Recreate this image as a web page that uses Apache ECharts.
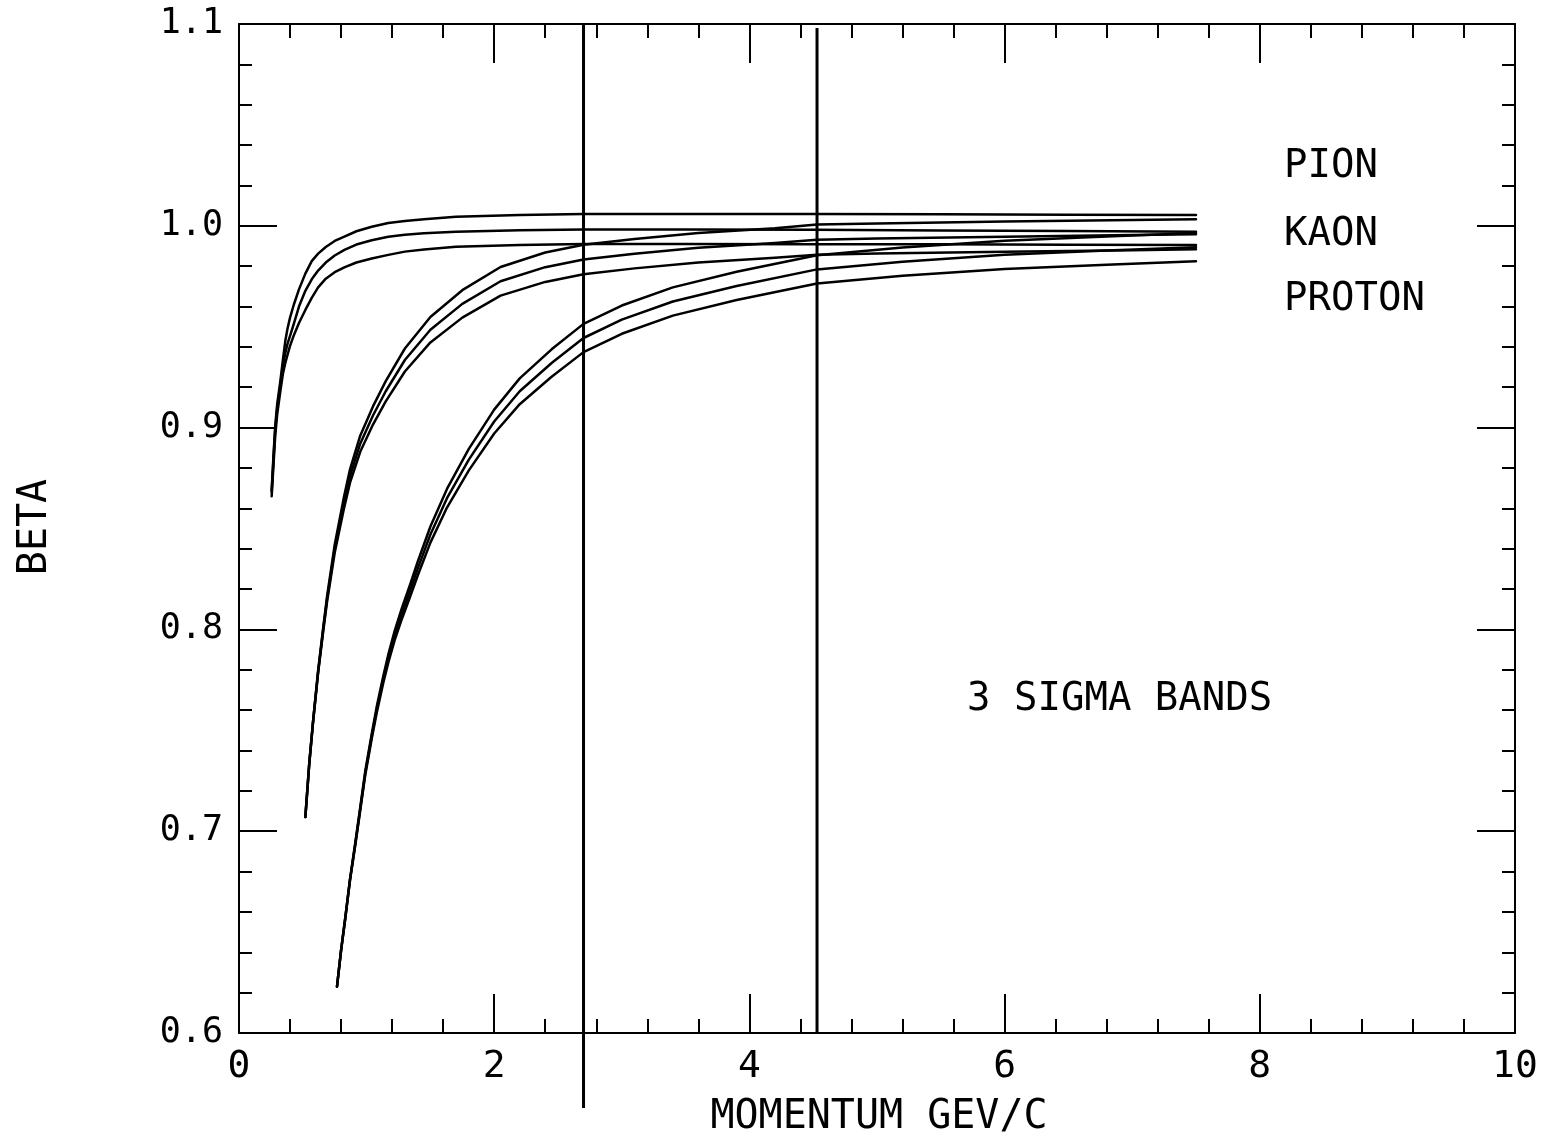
<!DOCTYPE html>
<html>
<head>
<meta charset="utf-8">
<title>Beta vs momentum</title>
<script src="https://cdn.jsdelivr.net/npm/echarts@6/dist/echarts.min.js"></script>
<style>
  html, body { margin: 0; padding: 0; background: #ffffff; }
  #chart { width: 1547px; height: 1140px; }
</style>
</head>
<body>
<div id="chart"></div>
<script>
// Momentum samples (GeV/c) and beta of the upper edge, centre and lower edge of each 3-sigma band
const pionP = [0.256, 0.27, 0.284, 0.30, 0.324, 0.345, 0.363, 0.38, 0.40, 0.43, 0.47, 0.52, 0.57, 0.62, 0.68, 0.75, 0.83, 0.92, 1.04, 1.17, 1.3, 1.45, 1.7, 2.2, 2.7, 3.5, 4.5, 5.5, 6.5, 7.5];
const pionUpper = [0.869, 0.886, 0.901, 0.912, 0.923, 0.934, 0.943, 0.949, 0.9545, 0.961, 0.9685, 0.9763, 0.9825, 0.9862, 0.9895, 0.9925, 0.9948, 0.9973, 0.9995, 1.0014, 1.0024, 1.0033, 1.0045, 1.0054, 1.0058, 1.0058, 1.0058, 1.0057, 1.0055, 1.0054];
const pionCentre = [0.868, 0.884, 0.899, 0.910, 0.921, 0.931, 0.937, 0.9415, 0.9455, 0.9515, 0.960, 0.9678, 0.9735, 0.9778, 0.9818, 0.9853, 0.9882, 0.9907, 0.9928, 0.9946, 0.9956, 0.9963, 0.9971, 0.9978, 0.9982, 0.9982, 0.998, 0.9977, 0.9974, 0.9971];
const pionLower = [0.866, 0.881, 0.896, 0.907, 0.918, 0.927, 0.932, 0.936, 0.9405, 0.9458, 0.9518, 0.9583, 0.9643, 0.9695, 0.9738, 0.977, 0.9795, 0.9818, 0.9838, 0.9856, 0.9872, 0.9882, 0.9896, 0.9905, 0.991, 0.991, 0.9909, 0.9908, 0.9906, 0.9905];

const kaonP = [0.52, 0.55, 0.58, 0.62, 0.66, 0.69, 0.75, 0.82, 0.87, 0.95, 1.05, 1.15, 1.3, 1.5, 1.75, 2.05, 2.4, 2.7, 3.1, 3.6, 4.2, 4.53, 5.0, 6.0, 7.0, 7.5];
const kaonUpper = [0.707, 0.733, 0.7543, 0.7796, 0.801, 0.8163, 0.842, 0.8648, 0.8793, 0.896, 0.9105, 0.923, 0.9392, 0.9548, 0.9681, 0.9796, 0.9868, 0.9906, 0.9935, 0.9964, 0.9988, 1.0006, 1.0011, 1.0021, 1.0029, 1.0032];
const kaonCentre = [0.707, 0.733, 0.754, 0.779, 0.800, 0.815, 0.840, 0.862, 0.876, 0.892, 0.906, 0.918, 0.9335, 0.9485, 0.9613, 0.9725, 0.9795, 0.9833, 0.9862, 0.9891, 0.9915, 0.9931, 0.9937, 0.9946, 0.9954, 0.9958];
const kaonLower = [0.707, 0.733, 0.7537, 0.7784, 0.799, 0.8137, 0.838, 0.8592, 0.8727, 0.888, 0.9015, 0.913, 0.9278, 0.9422, 0.9545, 0.9654, 0.9722, 0.976, 0.9789, 0.9818, 0.9842, 0.9856, 0.9863, 0.9871, 0.9879, 0.9884];

const protonP = [0.768, 0.80, 0.833, 0.87, 0.912, 0.95, 0.99, 1.04, 1.082, 1.13, 1.172, 1.22, 1.277, 1.34, 1.4, 1.5, 1.63, 1.8, 2.0, 2.2, 2.45, 2.7, 3.0, 3.4, 3.9, 4.53, 5.2, 6.0, 6.8, 7.5];
const protonUpper = [0.623, 0.6411, 0.6573, 0.6764, 0.6946, 0.7118, 0.730, 0.7482, 0.7625, 0.7767, 0.788, 0.7993, 0.8107, 0.822, 0.8334, 0.851, 0.8696, 0.8893, 0.9089, 0.9244, 0.9388, 0.9514, 0.9605, 0.9695, 0.9772, 0.9854, 0.9892, 0.9926, 0.9947, 0.9964];
const protonCentre = [0.623, 0.641, 0.657, 0.676, 0.694, 0.711, 0.729, 0.747, 0.761, 0.775, 0.786, 0.797, 0.808, 0.819, 0.830, 0.847, 0.865, 0.884, 0.903, 0.918, 0.932, 0.9444, 0.9535, 0.9625, 0.9702, 0.9784, 0.9822, 0.9856, 0.9877, 0.9894];
const protonLower = [0.623, 0.6409, 0.6567, 0.6756, 0.6934, 0.7102, 0.728, 0.7458, 0.7595, 0.7733, 0.784, 0.7947, 0.8053, 0.816, 0.8266, 0.843, 0.8604, 0.8787, 0.8971, 0.9116, 0.9252, 0.9374, 0.9465, 0.9555, 0.9632, 0.9714, 0.9752, 0.9786, 0.9807, 0.9824];

// Momentum cut lines: position (GeV/c) and the beta range each one spans
const cutP = [2.70, 4.53];
const cutBeta = [[0.5628, 1.1], [0.6, 1.098]];

// Axis ranges and tick labels
const xRange = [0, 10];
const yRange = [0.6, 1.1];
const xTickLabels = ['0', '2', '4', '6', '8', '10'];
const yTickLabels = ['0.6', '0.7', '0.8', '0.9', '1.0', '1.1'];

// Text drawn on the figure
const xTitle = 'MOMENTUM GEV/C';
const yTitle = 'BETA';
const particleNames = ['PION', 'KAON', 'PROTON'];
const bandNote = '3 SIGMA BANDS';

const FONT = '"DejaVu Sans Mono", "Liberation Mono", monospace';
const INK = '#000000';

function pairs(ps, betas) {
  return ps.map((p, i) => [p, betas[i]]);
}

function curve(name, ps, betas) {
  return {
    name: name,
    type: 'line',
    data: pairs(ps, betas),
    showSymbol: false,
    smooth: false,
    lineStyle: { color: INK, width: 2.5, join: 'round', cap: 'round' },
    emphasis: { disabled: true },
    silent: true,
    z: 3
  };
}

const series = [
  curve('pion upper', pionP, pionUpper),
  curve('pion centre', pionP, pionCentre),
  curve('pion lower', pionP, pionLower),
  curve('kaon upper', kaonP, kaonUpper),
  curve('kaon centre', kaonP, kaonCentre),
  curve('kaon lower', kaonP, kaonLower),
  curve('proton upper', protonP, protonUpper),
  curve('proton centre', protonP, protonCentre),
  curve('proton lower', protonP, protonLower)
];

cutP.forEach((p, i) => {
  series.push({
    name: 'cut ' + (i + 1),
    type: 'line',
    data: cutBeta[i].map(b => [p, b]),
    showSymbol: false,
    clip: false,
    lineStyle: { color: INK, width: 3 },
    silent: true,
    z: 4
  });
});

function tickIndex(v, min, step) {
  return Math.round((v - min) / step);
}

const commonAxisLine = { show: true, onZero: false, lineStyle: { color: INK, width: 2 } };

function xAxisDef(position, withLabels) {
  return {
    type: 'value',
    position: position,
    min: xRange[0], max: xRange[1], interval: 2,
    axisLine: commonAxisLine,
    axisTick: { show: true, inside: true, length: 39, lineStyle: { color: INK, width: 2 } },
    minorTick: { show: true, splitNumber: 5, length: 14, lineStyle: { color: INK, width: 2 } },
    splitLine: { show: false },
    minorSplitLine: { show: false },
    axisLabel: withLabels ? {
      show: true, margin: 15, color: INK, fontFamily: FONT, fontSize: 38,
      formatter: v => xTickLabels[tickIndex(v, xRange[0], 2)]
    } : { show: false }
  };
}

function yAxisDef(position, withLabels) {
  return {
    type: 'value',
    position: position,
    min: yRange[0], max: yRange[1], interval: 0.1,
    axisLine: commonAxisLine,
    axisTick: { show: true, inside: true, length: 38, lineStyle: { color: INK, width: 2 } },
    minorTick: { show: true, splitNumber: 5, length: 13, lineStyle: { color: INK, width: 2 } },
    splitLine: { show: false },
    minorSplitLine: { show: false },
    axisLabel: withLabels ? {
      show: true, margin: 16, color: INK, fontFamily: FONT, fontSize: 35,
      formatter: v => yTickLabels[tickIndex(v, yRange[0], 0.1)]
    } : { show: false }
  };
}

function text(str, x, y, opts) {
  return Object.assign({
    type: 'text',
    x: x, y: y,
    silent: true,
    style: {
      text: str, fill: INK, fontFamily: FONT, fontSize: 39,
      align: 'left', verticalAlign: 'middle'
    }
  }, opts || {});
}

const chart = echarts.init(document.getElementById('chart'), null, { renderer: 'canvas' });
chart.setOption({
  backgroundColor: '#ffffff',
  animation: false,
  grid: { left: 239, right: 32, top: 24, bottom: 107, containLabel: false },
  xAxis: [xAxisDef('bottom', true), xAxisDef('top', false)],
  yAxis: [yAxisDef('left', true), yAxisDef('right', false)],
  series: series,
  graphic: [
    text(xTitle, 879, 1118, { style: { text: xTitle, fill: INK, fontFamily: FONT, fontSize: 40, align: 'center', verticalAlign: 'middle' } }),
    text(yTitle, 36, 527, { rotation: Math.PI / 2, style: { text: yTitle, fill: INK, fontFamily: FONT, fontSize: 40, align: 'center', verticalAlign: 'middle' } }),
    text(particleNames[0], 1284, 167),
    text(particleNames[1], 1284, 235),
    text(particleNames[2], 1284, 300),
    text(bandNote, 967, 700)
  ]
});
</script>
</body>
</html>
